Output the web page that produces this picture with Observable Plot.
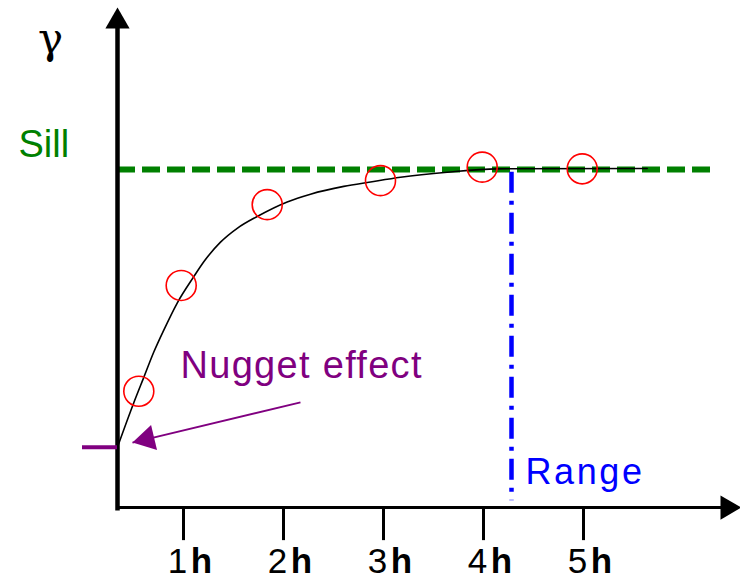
<!DOCTYPE html>
<html><head><meta charset="utf-8">
<script src="https://cdn.jsdelivr.net/npm/d3@7"></script>
<script src="https://cdn.jsdelivr.net/npm/@observablehq/plot@0.6"></script>
<style>body{margin:0;background:#fff}#chart{width:740px;height:579px}</style>
</head><body><div id="chart"></div>
<script>
// ---- data ----
const lagTicks = [1, 2, 3, 4, 5];
const tickDigits = ["1", "2", "3", "4", "5"];
const tickUnit = "h";
const sampleLag = [0.553, 0.977, 1.837, 2.97, 3.987, 4.987];
const sampleGamma = [0.344, 0.657, 0.896, 0.967, 1.007, 1.002];
const modelLag = [0.345, 0.503, 0.603, 0.703, 0.803, 0.937, 1.103, 1.203, 1.37, 1.537, 1.737, 2.037, 2.27, 2.603, 2.87, 3.17, 3.637, 4.137, 5.637];
const modelGamma = [0.183, 0.31, 0.385, 0.46, 0.525, 0.605, 0.683, 0.727, 0.785, 0.826, 0.861, 0.904, 0.927, 0.95, 0.963, 0.977, 0.992, 1.002, 1.003];
const sill = 1.0;
const nugget = 0.178;
const rangeLag = 4.28;
const axisLabel = "γ";
const sillLabel = "Sill";
const nuggetLabel = "Nugget effect";
const rangeLabel = "Range";

// ---- layout ----
const W = 740, H = 579;
const xDomain = [-0.83, 6.57];
const yDomain = [-0.213, 1.5];
const originLag = 0.34, originGamma = 0;
const xAxisEnd = 6.58, yAxisEnd = 1.479;
const sillEnd = 6.34;
const sx = d3.scaleLinear(xDomain, [0, W]);
const sy = d3.scaleLinear(yDomain, [H, 0]);

function head(tipLag, tipG, fromLag, fromG, r) {
  const tx = sx(tipLag), ty = sy(tipG), fx = sx(fromLag), fy = sy(fromG);
  const len = Math.hypot(tx - fx, ty - fy);
  const ux = (tx - fx) / len, uy = (ty - fy) / len;
  const off = 2 * Math.sqrt(Math.PI * r * r / (3 * Math.sqrt(3)));
  return {lag: sx.invert(tx - ux * off), gamma: sy.invert(ty - uy * off),
          rotate: Math.atan2(uy, ux) * 180 / Math.PI + 90};
}

const samples = sampleLag.map((l, i) => ({lag: l, gamma: sampleGamma[i]}));
const model = modelLag.map((l, i) => ({lag: l, gamma: modelGamma[i]}));
const ticks = lagTicks.map((l, i) => ({lag: l, digit: tickDigits[i], unit: tickUnit}));

const nugArrow = {x1: 2.17, y1: 0.311, x2: 0.49, y2: 0.192};
const axisHeads = [
  head(originLag, yAxisEnd, originLag, 0, 9),
  head(xAxisEnd, originGamma, originLag, 0, 9)
];
const nugHead = [head(nugArrow.x2, nugArrow.y2, nugArrow.x1, nugArrow.y1, 9.5)];

const font = "Liberation Sans, Arial, sans-serif";
const plot = Plot.plot({
  width: W, height: H,
  margin: 0,
  x: {domain: xDomain, axis: null},
  y: {domain: yDomain, axis: null},
  style: {background: "#fff", fontFamily: font},
  marks: [
    // sill
    Plot.ruleY([sill], {x1: originLag, x2: sillEnd, stroke: "#008000", strokeWidth: 6, strokeDasharray: "18,7"}),
    // range
    Plot.ruleX([rangeLag], {y1: sill - 0.008, y2: 0.02, stroke: "#0000ff", strokeWidth: 4.5, strokeDasharray: "21,8,4,8"}),
    // axes
    Plot.ruleX([originLag], {y1: -0.01, y2: yAxisEnd - 0.03, stroke: "black", strokeWidth: 4.5}),
    Plot.ruleY([originGamma], {x1: originLag, x2: xAxisEnd - 0.05, stroke: "black", strokeWidth: 3}),
    Plot.ruleX(ticks, {x: "lag", y1: 0, y2: -0.098, stroke: "black", strokeWidth: 3}),
    Plot.dot(axisHeads, {x: "lag", y: "gamma", r: 9, symbol: "triangle", rotate: "rotate", fill: "black", stroke: null}),
    // nugget marker
    Plot.ruleY([nugget], {x1: -0.01, x2: originLag, stroke: "#800080", strokeWidth: 4}),
    // model curve
    Plot.line(model, {x: "lag", y: "gamma", stroke: "black", strokeWidth: 1.6, curve: "monotone-x"}),
    // experimental points
    Plot.dot(samples, {x: "lag", y: "gamma", r: 15, stroke: "#ff0000", strokeWidth: 1.6, fill: "none"}),
    // nugget arrow
    Plot.link([nugArrow], {x1: "x1", y1: "y1", x2: "x2", y2: "y2", stroke: "#800080", strokeWidth: 2}),
    Plot.dot(nugHead, {x: "lag", y: "gamma", r: 9.5, symbol: "triangle", rotate: "rotate", fill: "#800080", stroke: null}),
    // tick labels
    Plot.text(ticks, {x: "lag", y: -0.195, text: "digit", dx: -6, textAnchor: "middle", lineAnchor: "bottom", fontSize: 35, fill: "black"}),
    Plot.text(ticks, {x: "lag", y: -0.195, text: "unit", dx: 18, textAnchor: "middle", lineAnchor: "bottom", fontSize: 35, fontWeight: "bold", fill: "black"}),
    // annotations
    Plot.text([axisLabel], {x: -0.33, y: 1.345, text: d => d, textAnchor: "middle", lineAnchor: "bottom", fontSize: 42, fontFamily: "DejaVu Serif, serif", fill: "black"}),
    Plot.text([sillLabel], {x: -0.65, y: 1.036, text: d => d, textAnchor: "start", lineAnchor: "bottom", fontSize: 38, fill: "#008000"}),
    Plot.text([nuggetLabel], {x: 0.97, y: 0.382, text: d => d, textAnchor: "start", lineAnchor: "bottom", fontSize: 38, fill: "#800080"}),
    Plot.text([rangeLabel], {x: 4.42, y: 0.071, text: d => d, textAnchor: "start", lineAnchor: "bottom", fontSize: 36, fill: "#0000ff"})
  ]
});
d3.select(plot).selectAll("text").each(function() {
  const t = this.textContent;
  if (t === nuggetLabel) this.setAttribute("letter-spacing", "1.3");
  if (t === rangeLabel) this.setAttribute("letter-spacing", "2.6");
});
document.getElementById("chart").appendChild(plot);
</script>
</body></html>
